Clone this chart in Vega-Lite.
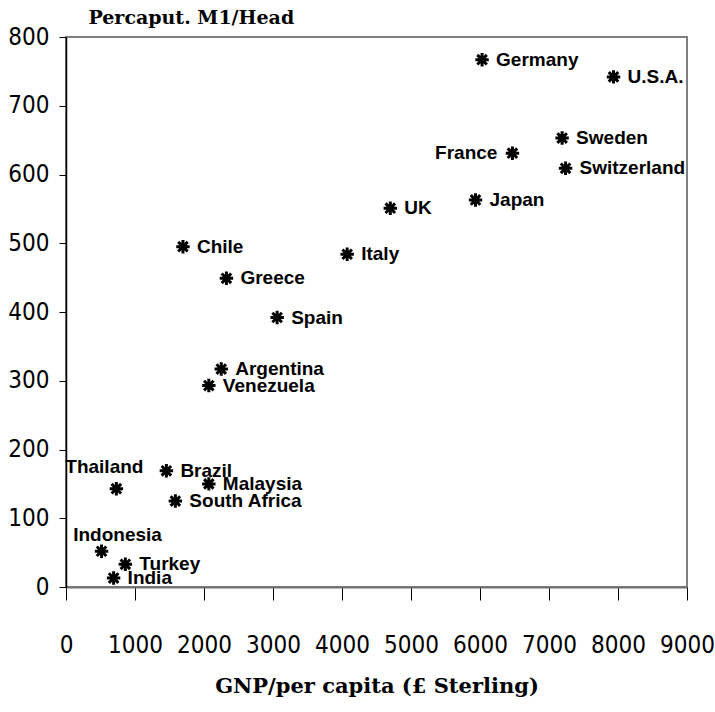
{
  "$schema": "https://vega.github.io/schema/vega-lite/v6.json",
  "width": 621,
  "height": 550,
  "autosize": {"type": "none"},
  "padding": {"left": 66, "top": 37, "right": 28, "bottom": 125},
  "background": "white",
  "config": {
    "view": {"stroke": "#808080", "strokeWidth": 2},
    "axis": {"grid": false}
  },
  "data": {
    "values": [
      {"country": "Germany", "gnp": 6030, "m1": 767},
      {"country": "U.S.A.", "gnp": 7935, "m1": 742},
      {"country": "Sweden", "gnp": 7190, "m1": 653},
      {"country": "France", "gnp": 6470, "m1": 631},
      {"country": "Switzerland", "gnp": 7240, "m1": 609},
      {"country": "Japan", "gnp": 5935, "m1": 563},
      {"country": "UK", "gnp": 4700, "m1": 551},
      {"country": "Chile", "gnp": 1695, "m1": 495},
      {"country": "Italy", "gnp": 4075, "m1": 484},
      {"country": "Greece", "gnp": 2325, "m1": 449},
      {"country": "Spain", "gnp": 3060, "m1": 392},
      {"country": "Argentina", "gnp": 2250, "m1": 317},
      {"country": "Venezuela", "gnp": 2070, "m1": 293},
      {"country": "Brazil", "gnp": 1455, "m1": 169},
      {"country": "Malaysia", "gnp": 2070, "m1": 150},
      {"country": "South Africa", "gnp": 1585, "m1": 125},
      {"country": "Thailand", "gnp": 730, "m1": 143},
      {"country": "Indonesia", "gnp": 515, "m1": 52},
      {"country": "Turkey", "gnp": 860, "m1": 33},
      {"country": "India", "gnp": 690, "m1": 13}
    ]
  },
  "encoding": {
    "x": {
      "field": "gnp",
      "type": "quantitative",
      "scale": {"domain": [0, 9000], "nice": false, "zero": true},
      "axis": {
        "values": [0, 1000, 2000, 3000, 4000, 5000, 6000, 7000, 8000, 9000],
        "format": "d",
        "title": "GNP/per capita (£ Sterling)",
        "titleFont": "DejaVu Serif",
        "titleFontWeight": "bold",
        "titleFontSize": 21,
        "titleColor": "#000000",
        "titlePadding": 18,
        "labelFont": "DejaVu Sans Condensed",
        "labelFontSize": 24,
        "labelColor": "#000000",
        "labelPadding": 33,
        "labelFlush": false,
        "labelOverlap": false,
        "domainColor": "#707070",
        "domainWidth": 2,
        "tickColor": "#000000",
        "tickSize": 13,
        "tickWidth": 1
      }
    },
    "y": {
      "field": "m1",
      "type": "quantitative",
      "scale": {"domain": [0, 800], "nice": false},
      "axis": {
        "values": [0, 100, 200, 300, 400, 500, 600, 700, 800],
        "format": "d",
        "title": "Percaput. M1/Head",
        "titleAngle": 0,
        "titleX": 22,
        "titleY": -14,
        "titleAlign": "left",
        "titleBaseline": "alphabetic",
        "titleFont": "DejaVu Serif",
        "titleFontWeight": "bold",
        "titleFontSize": 19,
        "titleColor": "#000000",
        "labelFont": "DejaVu Sans Condensed",
        "labelFontSize": 24,
        "labelColor": "#000000",
        "labelPadding": 10,
        "labelFlush": false,
        "labelOverlap": false,
        "domainColor": "#000000",
        "domainWidth": 1.5,
        "tickColor": "#000000",
        "tickSize": 7,
        "tickWidth": 1
      }
    }
  },
  "layer": [
    {
      "mark": {
        "type": "point",
        "shape": "M-1,0L1,0M0,-1L0,1M-0.71,-0.71L0.71,0.71M-0.71,0.71L0.71,-0.71",
        "size": 180,
        "filled": false,
        "stroke": "#000000",
        "strokeWidth": 3,
        "opacity": 1
      }
    },
    {
      "transform": [{"filter": {"not": {"field": "country", "oneOf": ["France", "Thailand", "Indonesia"]}}}],
      "mark": {"type": "text", "align": "left", "baseline": "middle", "dx": 14, "font": "Liberation Sans", "fontWeight": "bold", "fontSize": 19, "color": "#000000"},
      "encoding": {"text": {"field": "country"}}
    },
    {
      "transform": [{"filter": {"field": "country", "equal": "France"}}],
      "mark": {"type": "text", "align": "right", "baseline": "middle", "dx": -15, "font": "Liberation Sans", "fontWeight": "bold", "fontSize": 19, "color": "#000000"},
      "encoding": {"text": {"field": "country"}}
    },
    {
      "transform": [{"filter": {"field": "country", "equal": "Thailand"}}],
      "mark": {"type": "text", "align": "center", "baseline": "middle", "dx": -12, "dy": -22, "font": "Liberation Sans", "fontWeight": "bold", "fontSize": 19, "color": "#000000"},
      "encoding": {"text": {"field": "country"}}
    },
    {
      "transform": [{"filter": {"field": "country", "equal": "Indonesia"}}],
      "mark": {"type": "text", "align": "center", "baseline": "middle", "dx": 16, "dy": -16, "font": "Liberation Sans", "fontWeight": "bold", "fontSize": 19, "color": "#000000"},
      "encoding": {"text": {"field": "country"}}
    }
  ]
}
